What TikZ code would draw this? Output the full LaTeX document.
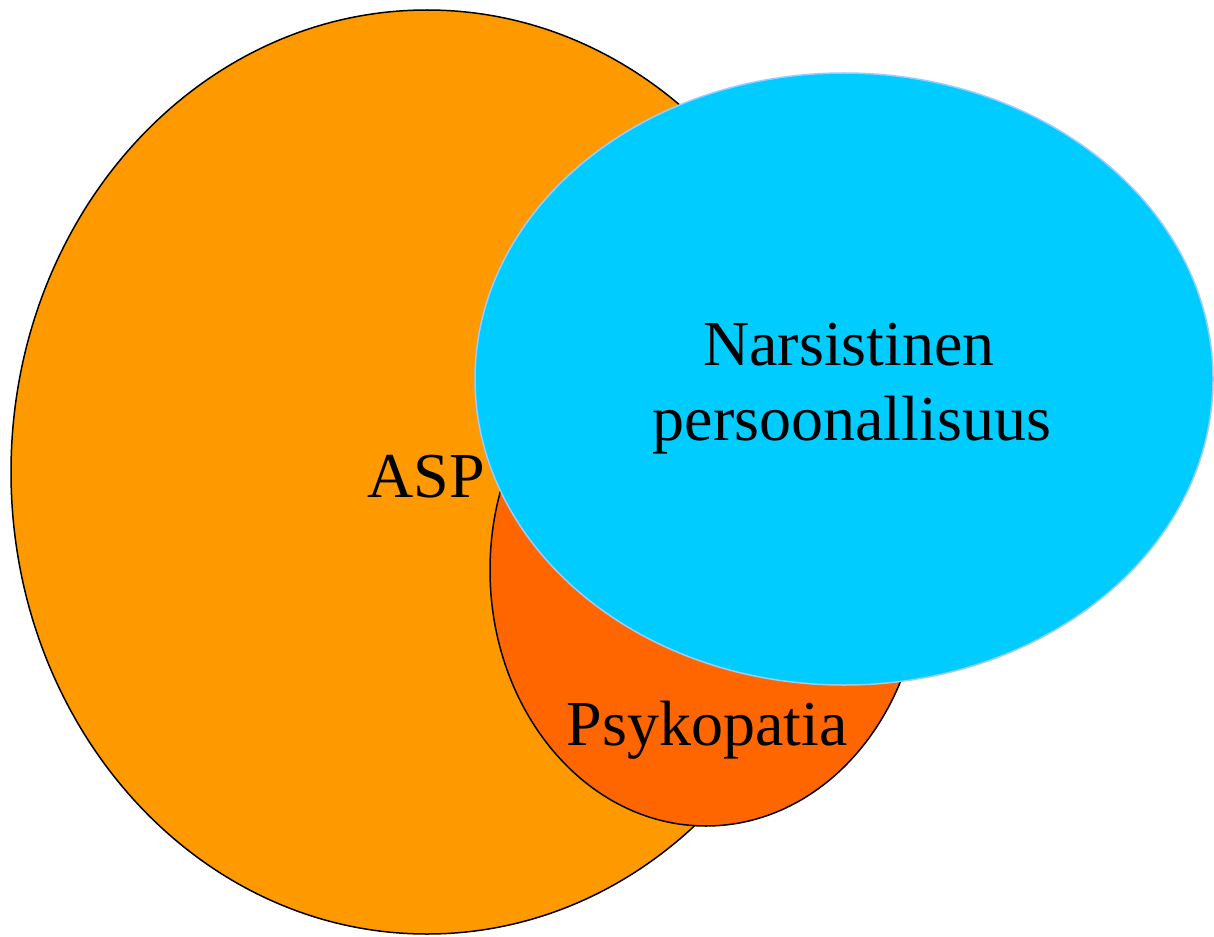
\documentclass[tikz,border=0pt]{standalone}
\usepackage{fontspec}
\setmainfont{Liberation Serif}
\definecolor{aspc}{HTML}{FF9900}
\definecolor{psyc}{HTML}{FF6600}
\definecolor{narc}{HTML}{00CCFF}
\definecolor{narb}{HTML}{99CCFF}
\tikzset{
  lbl/.style={anchor=base, inner sep=0pt, font=\fontsize{64}{75}\selectfont, text=black},
}
\begin{document}
\begin{tikzpicture}[x=1pt,y=-1pt]
\useasboundingbox (0,0) rectangle (1214,936);
\fill[white] (0,0) rectangle (1214,936);
\draw[fill=aspc, draw=black, line width=1.5pt] (427,472) ellipse [x radius=416, y radius=462];
\draw[fill=psyc, draw=black, line width=1.5pt] (706,570) ellipse [x radius=216, y radius=256];
\draw[fill=narc, draw=narb, line width=1.5pt] (844,379) ellipse [x radius=369, y radius=306];
\node[lbl] (asp) at (426,497) {ASP};
\node[lbl] (psy) at (707,745) {Psykopatia};
\node[lbl] (nar1) at (849,365) {Narsistinen};
\node[lbl] (nar2) at (852,440) {persoonallisuus};
\end{tikzpicture}
\end{document}
